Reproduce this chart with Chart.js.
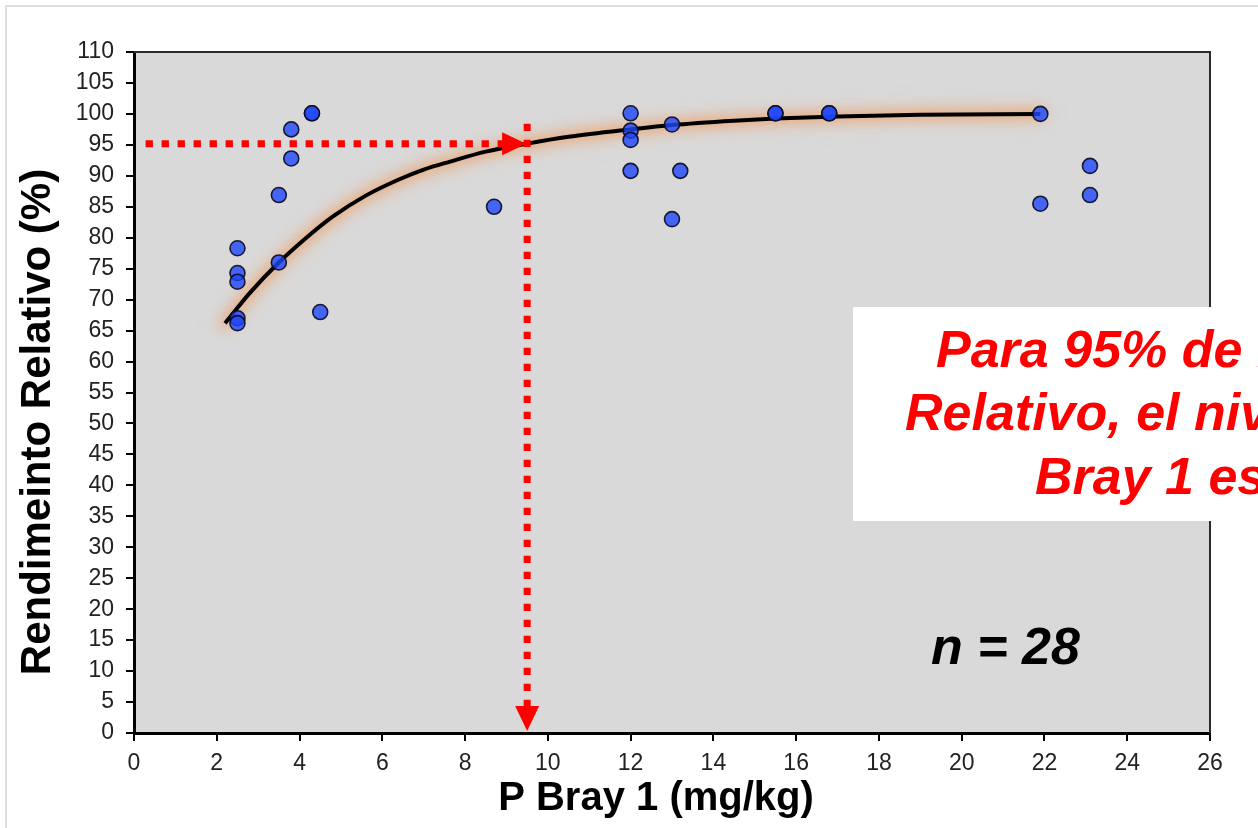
<!DOCTYPE html>
<html>
<head>
<meta charset="utf-8">
<script src="https://cdn.jsdelivr.net/npm/chart.js@4.4.1/dist/chart.umd.min.js"></script>
<style>
  html, body { margin: 0; padding: 0; background: #fff; }
  #wrap { position: relative; width: 1258px; height: 828px; }
</style>
</head>
<body>
<div id="wrap"><canvas id="c"></canvas></div>
<script>
// ---- Data ----
const pBray   = [2.5, 2.5, 2.5, 2.5, 2.5, 3.5, 3.5, 3.8, 3.8, 4.3, 4.3, 4.5, 8.7, 12, 12, 12, 12, 13, 13, 13.2, 15.5, 15.5, 16.8, 16.8, 21.9, 21.9, 23.1, 23.1];
const rendRel = [78.3, 74.3, 72.9, 67.0, 66.2, 86.9, 76.0, 97.5, 92.8, 100.1, 100.1, 68.0, 85.0, 100.1, 97.3, 95.8, 90.8, 98.3, 83.0, 90.8, 100.1, 100.1, 100.1, 100.1, 100.0, 85.5, 91.6, 86.9];

// fitted response curve
const fitX = [2.2, 2.8, 3.5, 4.2, 4.8, 5.6, 6.4, 7.0, 7.64, 8.5, 9.5, 10.5, 12, 13, 14.5, 15.5, 17, 19, 21.9];
const fitY = [66.2, 71.1, 76.0, 80.2, 83.4, 86.8, 89.4, 91.0, 92.3, 93.9, 95.2, 96.3, 97.5, 98.2, 98.9, 99.25, 99.6, 99.85, 100.0];

const xTicks = [0, 2, 4, 6, 8, 10, 12, 14, 16, 18, 20, 22, 24, 26];
const yTicks = [0, 5, 10, 15, 20, 25, 30, 35, 40, 45, 50, 55, 60, 65, 70, 75, 80, 85, 90, 95, 100, 105, 110];

// critical-level guide lines
const guideStartX = 0.28;
const criticalP   = 9.5;
const criticalRR  = 95.2;
const guideTopY   = 98.4;

const xTitle = 'P Bray 1 (mg/kg)';
const yTitle = 'Rendimeinto Relativo (%)';
const noteLines = ['Para 95% de Rendimiento', 'Relativo, el nivel crítico de P', 'Bray 1 es 9,5 ppm'];
const nLabel = 'n = 28';

// ---- Chart ----
const points = pBray.map((x, i) => ({ x: x, y: rendRel[i] }));
const curve  = fitX.map((x, i) => ({ x: x, y: fitY[i] }));

function drawText(ctx, text, x, y, angle, font, color, align) {
  ctx.save();
  ctx.translate(x, y);
  ctx.rotate(angle);
  ctx.font = font;
  ctx.fillStyle = color;
  ctx.textAlign = align || 'center';
  ctx.textBaseline = 'alphabetic';
  ctx.fillText(text, 0, 0);
  ctx.restore();
}

const deco = {
  id: 'deco',
  beforeDraw(chart) {
    const { ctx, chartArea: a } = chart;
    ctx.save();
    ctx.fillStyle = '#ffffff';
    ctx.fillRect(0, 0, chart.width, chart.height);
    ctx.strokeStyle = '#dedede';
    ctx.lineWidth = 2;
    ctx.beginPath();
    ctx.moveTo(6, chart.height);
    ctx.lineTo(6, 6);
    ctx.lineTo(chart.width, 6);
    ctx.stroke();
    ctx.fillStyle = '#d9d9d9';
    ctx.fillRect(a.left, a.top, a.right - a.left, a.bottom - a.top);
    ctx.restore();
  },
  beforeDatasetDraw(chart, args) {
    const ctx = chart.ctx;
    if (args.index === 2) {          // soft halo
      ctx.save();
      ctx.filter = 'blur(6px)';
      ctx.shadowColor = 'rgba(238,160,110,0.6)';
      ctx.shadowBlur = 16;
    } else if (args.index === 0) {   // black fit line with light glow
      ctx.save();
      ctx.shadowColor = 'rgba(240,150,85,0.7)';
      ctx.shadowBlur = 10;
    }
  },
  afterDatasetDraw(chart, args) {
    if (args.index === 0 || args.index === 2) chart.ctx.restore();
  },
  afterDatasetsDraw(chart) {
    const { ctx, scales } = chart;
    const xs = scales.x, ys = scales.y;
    const px = xs.getPixelForValue(criticalP);
    const py = ys.getPixelForValue(criticalRR);
    const x0 = xs.getPixelForValue(guideStartX);
    const yTop = ys.getPixelForValue(guideTopY);
    const yBot = ys.getPixelForValue(0);
    ctx.save();
    ctx.strokeStyle = '#ff0000';
    ctx.fillStyle = '#ff0000';
    ctx.lineWidth = 7;
    ctx.lineCap = 'butt';
    ctx.setLineDash([7.3, 8.7]);
    ctx.beginPath();
    ctx.moveTo(x0, py);
    ctx.lineTo(px - 22, py);
    ctx.stroke();
    ctx.beginPath();
    ctx.moveTo(px, yTop);
    ctx.lineTo(px, yBot - 24);
    ctx.stroke();
    ctx.setLineDash([]);
    ctx.beginPath();
    ctx.moveTo(px - 1, py);
    ctx.lineTo(px - 25, py - 11.5);
    ctx.lineTo(px - 25, py + 11.5);
    ctx.closePath();
    ctx.fill();
    ctx.beginPath();
    ctx.moveTo(px, yBot - 2);
    ctx.lineTo(px - 12, yBot - 27);
    ctx.lineTo(px + 12, yBot - 27);
    ctx.closePath();
    ctx.fill();
    ctx.fillStyle = '#000';
    ctx.font = 'italic bold 52px "Liberation Sans", Arial, sans-serif';
    ctx.textAlign = 'left';
    ctx.textBaseline = 'alphabetic';
    ctx.fillText(nLabel, 931, 664);
    ctx.restore();
  },
  afterDraw(chart) {
    const { ctx, chartArea: a } = chart;
    ctx.save();
    ctx.strokeStyle = '#2a2a2a';
    ctx.lineWidth = 2;
    ctx.beginPath();
    ctx.moveTo(a.left, a.top);
    ctx.lineTo(a.right, a.top);
    ctx.lineTo(a.right, a.bottom);
    ctx.stroke();
    ctx.restore();
    drawText(ctx, xTitle, 656, 810, 0, 'bold 40px "Liberation Sans", Arial, sans-serif', '#000');
    drawText(ctx, yTitle, 50, 422, -Math.PI / 2, 'bold 42px "Liberation Sans", Arial, sans-serif', '#000');
    ctx.save();
    ctx.fillStyle = '#ffffff';
    ctx.fillRect(853, 307, 600, 214);
    ctx.fillStyle = '#ff0000';
    ctx.font = 'italic bold 52px "Liberation Sans", Arial, sans-serif';
    ctx.textAlign = 'left';
    ctx.textBaseline = 'alphabetic';
    const starts = [936, 905, 1035];
    const bases = [367, 430, 494];
    noteLines.forEach((t, i) => ctx.fillText(t, starts[i], bases[i]));
    ctx.restore();
  }
};

const tickFont = { family: '"Liberation Sans", Arial, sans-serif', size: 23 };

new Chart(document.getElementById('c'), {
  type: 'scatter',
  data: {
    datasets: [
      {
        label: 'Ajuste',
        data: curve,
        showLine: true,
        borderColor: '#000000',
        borderWidth: 4,
        pointRadius: 0,
        cubicInterpolationMode: 'monotone',
        fill: false,
        order: 1
      },
      {
        label: 'Observado',
        data: points,
        pointRadius: 7.5,
        pointBorderWidth: 1.6,
        backgroundColor: 'rgba(30,70,250,0.8)',
        borderColor: 'rgba(10,10,30,0.9)',
        order: 0
      },
      {
        label: 'Halo',
        data: curve,
        showLine: true,
        borderColor: 'rgba(238,168,118,0.35)',
        borderWidth: 16,
        borderCapStyle: 'round',
        pointRadius: 0,
        cubicInterpolationMode: 'monotone',
        fill: false,
        order: 2
      }
    ]
  },
  plugins: [deco],
  options: {
    responsive: true,
    maintainAspectRatio: false,
    animation: false,
    events: [],
    devicePixelRatio: 1,
    layout: { padding: { top: 52, right: 48, left: 0, bottom: 0 } },
    plugins: { legend: { display: false }, tooltip: { enabled: false }, title: { display: false } },
    scales: {
      x: {
        type: 'linear',
        min: 0, max: 26,
        afterBuildTicks: s => { s.ticks = xTicks.map(v => ({ value: v })); },
        afterFit: s => { s.height = 95; },
        ticks: { font: tickFont, color: '#222', padding: 9, maxRotation: 0, autoSkip: false },
        grid: { drawOnChartArea: false, drawTicks: true, tickLength: 8, color: '#000', lineWidth: 2 },
        border: { display: true, color: '#000', width: 3 },
        title: { display: false }
      },
      y: {
        type: 'linear',
        min: 0, max: 110,
        afterBuildTicks: s => { s.ticks = yTicks.map(v => ({ value: v })); },
        afterFit: s => { s.width = 134; },
        ticks: { font: tickFont, color: '#222', padding: 12, autoSkip: false },
        grid: { drawOnChartArea: false, drawTicks: true, tickLength: 8, color: '#000', lineWidth: 2 },
        border: { display: true, color: '#000', width: 3 },
        title: { display: false }
      }
    }
  }
});
</script>
</body>
</html>
